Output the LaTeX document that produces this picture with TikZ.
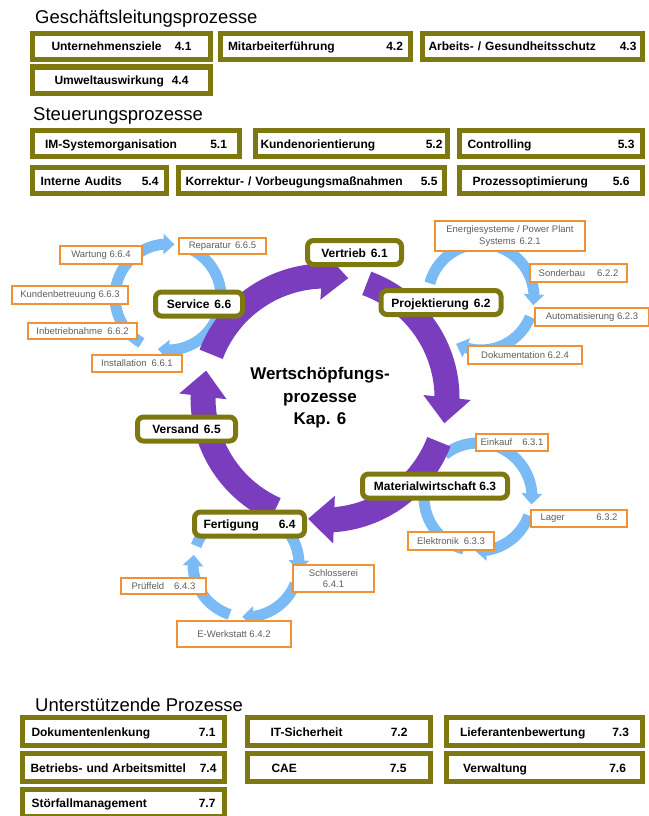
\documentclass[tikz,border=0pt]{standalone}
\usepackage{fontspec}
\setmainfont{Liberation Sans}
\usetikzlibrary{arrows.meta,bending}

\definecolor{oliv}{RGB}{126,120,16}
\definecolor{lila}{RGB}{121,61,190}
\definecolor{hellblau}{RGB}{122,186,245}
\definecolor{orangerand}{RGB}{240,145,50}
\definecolor{textgrau}{RGB}{95,95,95}

\begin{document}
\begin{tikzpicture}[x=1pt, y=1pt,
  liste/.style={draw=oliv, line width=5pt, fill=white, font=\fontsize{12}{14}\selectfont\bfseries,
    align=center, inner xsep=0pt, inner ysep=0pt, text height=10pt, text depth=1pt, minimum height=26pt},
  haupt/.style={draw=oliv, line width=5pt, fill=white, rounded corners=6pt,
    font=\fontsize{12}{14}\selectfont\bfseries, align=center, inner xsep=0pt, inner ysep=0pt,
    text height=10pt, text depth=1pt, minimum height=24pt},
  teil/.style={draw=orangerand, line width=1.8pt, fill=white, text=textgrau,
    font=\fontsize{9.5}{11.5}\selectfont, align=center, inner sep=0pt, minimum height=16pt},
  titel/.style={anchor=base west, inner sep=0pt, font=\fontsize{18.5}{22}\selectfont},
  ring/.style={draw=lila, line width=25pt, -{Triangle[width=46pt,length=26pt]}},
  kreis/.style={draw=hellblau, line width=11pt, -{Triangle[width=20pt,length=11pt]}}]

\fill[white] (0,0) rectangle (648,-816);
\useasboundingbox (0,0) rectangle (648,-816);

% Geschaeftsleitung
\node[titel] (gl) at (35,-24) {Geschäftsleitungsprozesse};
\node[liste, minimum width=178pt, text width=140pt] (ziele) at (121.5,-46.5) {Unternehmensziele\hfill 4.1};
\node[liste, minimum width=190pt, text width=175pt] (mitarb) at (315.5,-46.5) {Mitarbeiterführung\hfill 4.2};
\node[liste, minimum width=220pt, text width=208pt] (arbeit) at (532.5,-46.5) {Arbeits- / Gesundheitsschutz\hfill 4.3};
\node[liste, minimum width=178pt, text width=134pt] (umwelt) at (121.5,-80) {Umweltauswirkung\hfill 4.4};

% Steuerung
\node[titel] (st) at (33,-120) {Steuerungsprozesse};
\node[liste, minimum width=207pt, text width=182pt] (imsys) at (136,-143.5) {IM-Systemorganisation\hfill 5.1};
\node[liste, minimum width=192pt, text width=182pt] (kundo) at (351.5,-143.5) {Kundenorientierung\hfill 5.2};
\node[liste, minimum width=183pt, text width=167pt] (contr) at (551,-143.5) {Controlling\hfill 5.3};
\node[liste, minimum width=134pt, text width=118pt] (audit) at (99.5,-180.5) {Interne Audits\hfill 5.4};
\node[liste, minimum width=266pt, text width=252pt] (korr) at (311.5,-180.5) {Korrektur- / Vorbeugungsmaßnahmen\hfill 5.5};
\node[liste, minimum width=183pt, text width=157pt] (popt) at (551,-180.5) {Prozessoptimierung\hfill 5.6};

% Teilkreise
\coordinate (smitte) at (168,-297);
\coordinate (pmitte) at (481,-297);
\coordinate (wmitte) at (478,-497);
\coordinate (fmitte) at (246,-564);
\draw[kreis] (smitte) ++(240:53) arc[start angle=240, end angle=83, radius=53];
\draw[kreis] (smitte) ++(65:53) arc[start angle=65, end angle=-101, radius=53];
\draw[kreis] (pmitte) ++(165:53) arc[start angle=165, end angle=-9, radius=53];
\draw[kreis] (pmitte) ++(-22:53) arc[start angle=-22, end angle=-118, radius=53];
\draw[kreis] (wmitte) ++(128:54) arc[start angle=128, end angle=-8, radius=54];
\draw[kreis] (wmitte) ++(-20:54) arc[start angle=-20, end angle=-93, radius=54];
\draw[kreis] (wmitte) ++(-105:54) arc[start angle=-105, end angle=-195, radius=54];
\draw[kreis] (fmitte) ++(70:53) arc[start angle=70, end angle=-8, radius=53];
\draw[kreis] (fmitte) ++(-22:53) arc[start angle=-22, end angle=-94, radius=53];
\draw[kreis] (fmitte) ++(-108:53) arc[start angle=-108, end angle=-190, radius=53];
\draw[draw=hellblau, line width=11pt] (fmitte) ++(160:53) arc[start angle=160, end angle=118, radius=53];

% Hauptkreis
\coordinate (mitte) at (325,-398);
\draw[ring] (mitte) ++(159:122) arc[start angle=159, end angle=79, radius=122];
\draw[ring] (mitte) ++(70:122) arc[start angle=70, end angle=-12, radius=122];
\draw[ring] (mitte) ++(-21:122) arc[start angle=-21, end angle=-98, radius=122];
\draw[ring] (mitte) ++(-114:122) arc[start angle=-114, end angle=-193, radius=122];

\node[font=\fontsize{17}{22.5}\selectfont\bfseries, align=center] (kap) at (320,-398) {Wertschöpfungs-\\prozesse\\Kap. 6};

\node[haupt, minimum width=94pt] (vertrieb) at (354.5,-252.5) {Vertrieb\hspace{5pt}6.1};
\node[haupt, minimum width=120pt] (projekt) at (441,-302.5) {Projektierung\hspace{5pt}6.2};
\node[haupt, minimum width=145pt] (material) at (435,-486) {Materialwirtschaft 6.3};
\node[haupt, minimum width=110pt, text width=92pt] (fertigung) at (249.5,-524) {Fertigung\hfill 6.4};
\node[haupt, minimum width=98pt] (versand) at (186.5,-429) {Versand\hspace{5pt}6.5};
\node[haupt, minimum width=87pt] (service) at (199,-304) {Service\hspace{5pt}6.6};

% Service
\node[teil, minimum width=87pt] (rep) at (222.5,-246) {Reparatur\hspace{4pt}6.6.5};
\node[teil, minimum width=82pt, minimum height=18pt] (wart) at (101,-255) {Wartung 6.6.4};
\node[teil, minimum width=116pt, minimum height=18pt] (kund) at (70,-295) {Kundenbetreuung 6.6.3};
\node[teil, minimum width=109pt] (inbe) at (82.5,-331) {Inbetriebnahme\hspace{5pt}6.6.2};
\node[teil, minimum width=90pt, minimum height=17pt] (inst) at (137,-363.5) {Installation\hspace{5pt}6.6.1};

% Projektierung
\node[teil, minimum width=150pt, minimum height=30pt] (ener) at (510,-236) {Energiesysteme / Power Plant\\Systems\hspace{4pt}6.2.1};
\node[teil, minimum width=97pt, minimum height=18pt] (sond) at (578.5,-273) {Sonderbau\hspace{12pt}6.2.2};
\node[teil, minimum width=114pt, minimum height=18pt] (auto) at (592,-317) {Automatisierung 6.2.3};
\node[teil, minimum width=114pt, minimum height=18pt] (doku) at (525,-355) {Dokumentation 6.2.4};

% Materialwirtschaft
\node[teil, minimum width=72pt, minimum height=17pt] (eink) at (512,-442.5) {Einkauf\hspace{10pt}6.3.1};
\node[teil, minimum width=96pt, minimum height=17pt, text width=77pt] (lager) at (579,-518.5) {Lager\hfill 6.3.2};
\node[teil, minimum width=86pt, minimum height=18pt] (elek) at (451,-541) {Elektronik\hspace{5pt}6.3.3};

% Fertigung
\node[teil, minimum width=81pt, minimum height=27pt] (schl) at (333.5,-578.5) {Schlosserei\\6.4.1};
\node[teil, minimum width=85pt] (pruef) at (163.5,-586) {Prüffeld\hspace{10pt}6.4.3};
\node[teil, minimum width=114pt, minimum height=26pt] (ewerk) at (234,-634) {E-Werkstatt 6.4.2};

% Unterstuetzung
\node[titel] (up) at (35,-711) {Unterstützende Prozesse};
\node[liste, minimum width=202pt, minimum height=28pt, text width=184pt] (doklenk) at (123.5,-731.5) {Dokumentenlenkung\hfill 7.1};
\node[liste, minimum width=183pt, minimum height=28pt, text width=137pt] (itsich) at (339,-731.5) {IT-Sicherheit\hfill 7.2};
\node[liste, minimum width=196pt, minimum height=28pt, text width=169pt] (liefer) at (544.5,-731.5) {Lieferantenbewertung\hfill 7.3};
\node[liste, minimum width=202pt, minimum height=28pt, text width=186pt] (betrieb) at (123.5,-767.5) {Betriebs- und Arbeitsmittel\hfill 7.4};
\node[liste, minimum width=183pt, minimum height=28pt, text width=135pt] (cae) at (339,-767.5) {CAE\hfill 7.5};
\node[liste, minimum width=196pt, minimum height=28pt, text width=163pt] (verw) at (544.5,-767.5) {Verwaltung\hfill 7.6};
\node[liste, minimum width=202pt, minimum height=27pt, text width=184pt] (stoer) at (123.5,-803) {Störfallmanagement\hfill 7.7};
\end{tikzpicture}
\end{document}
